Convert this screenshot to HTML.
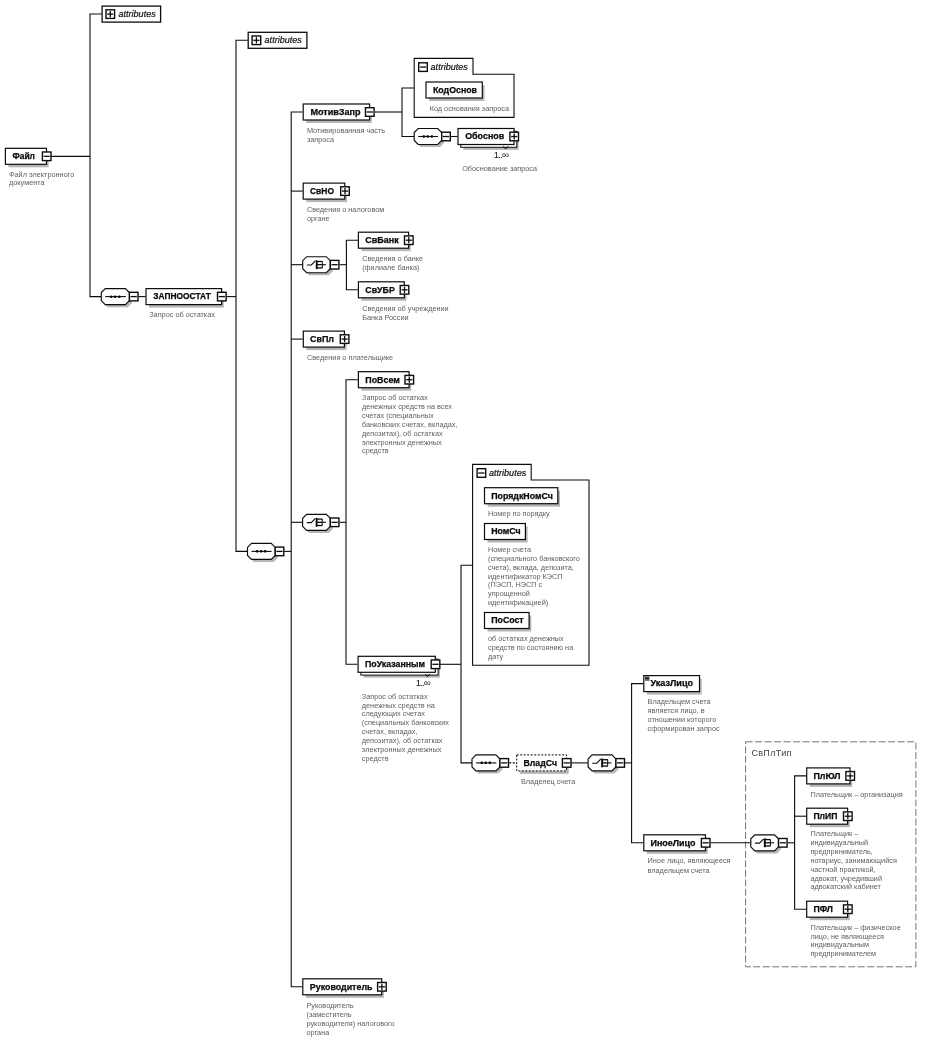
<!DOCTYPE html>
<html lang="ru">
<head>
<meta charset="utf-8">
<title>Схема: Файл / ЗАПНООСТАТ</title>
<style>
html,body{margin:0;padding:0;background:#fff;}
body{width:925px;height:1043px;overflow:hidden;}
svg{display:block;will-change:transform;}
text{font-family:"Liberation Sans",sans-serif;}
.b{font-weight:bold;fill:#0a0a0a;stroke:#0a0a0a;stroke-width:0.25px;}
.i{font-style:italic;fill:#111;stroke:#111;stroke-width:0.2px;}
.l{fill:#606060;}
.c{fill:#1a1a1a;}
.g{fill:#444;}
</style>
</head>
<body>
<svg width="925" height="1043" viewBox="0 0 925 1043">
<rect width="925" height="1043" fill="#fff"/>
<rect x="745.6" y="741.8" width="170.3" height="225" fill="#ffffff" stroke="#666" stroke-width="0.9" stroke-dasharray="7 2.5"/>
<text x="751.4" y="755.8" class="g" font-size="9" textLength="40">СвПлТип</text>
<path d="M51.0,156.4 L90.0,156.4" fill="none" stroke="#0c0c0c" stroke-width="1.1"/>
<path d="M101.6,14.0 L90.0,14.0 L90.0,296.6 L101.3,296.6" fill="none" stroke="#0c0c0c" stroke-width="1.1"/>
<path d="M138.4,296.6 L145.4,296.6" fill="none" stroke="#0c0c0c" stroke-width="1.1"/>
<path d="M226.0,296.6 L236.0,296.6" fill="none" stroke="#0c0c0c" stroke-width="1.1"/>
<path d="M247.7,40.3 L236.0,40.3 L236.0,551.4 L247.5,551.4" fill="none" stroke="#0c0c0c" stroke-width="1.1"/>
<path d="M284.3,551.4 L291.2,551.4" fill="none" stroke="#0c0c0c" stroke-width="1.1"/>
<path d="M302.6,112.0 L291.2,112.0 L291.2,986.8 L302.2,986.8" fill="none" stroke="#0c0c0c" stroke-width="1.1"/>
<path d="M291.2,191.1 L302.6,191.1" fill="none" stroke="#0c0c0c" stroke-width="1.1"/>
<path d="M291.2,264.7 L302.7,264.7" fill="none" stroke="#0c0c0c" stroke-width="1.1"/>
<path d="M291.2,339.1 L302.7,339.1" fill="none" stroke="#0c0c0c" stroke-width="1.1"/>
<path d="M291.2,522.3 L302.6,522.3" fill="none" stroke="#0c0c0c" stroke-width="1.1"/>
<path d="M374.7,112.0 L402.0,112.0" fill="none" stroke="#0c0c0c" stroke-width="1.1"/>
<path d="M414.2,88.0 L402.0,88.0 L402.0,136.5 L414.2,136.5" fill="none" stroke="#0c0c0c" stroke-width="1.1"/>
<path d="M450.5,136.5 L457.4,136.5" fill="none" stroke="#0c0c0c" stroke-width="1.1"/>
<path d="M339.6,264.7 L346.4,264.7" fill="none" stroke="#0c0c0c" stroke-width="1.1"/>
<path d="M357.8,240.2 L346.4,240.2 L346.4,289.8 L357.8,289.8" fill="none" stroke="#0c0c0c" stroke-width="1.1"/>
<path d="M339.6,522.3 L346.0,522.3" fill="none" stroke="#0c0c0c" stroke-width="1.1"/>
<path d="M357.8,379.7 L346.0,379.7 L346.0,664.3 L357.5,664.3" fill="none" stroke="#0c0c0c" stroke-width="1.1"/>
<path d="M439.9,664.3 L461.0,664.3" fill="none" stroke="#0c0c0c" stroke-width="1.1"/>
<path d="M472.6,565.3 L461.0,565.3 L461.0,762.9 L472.0,762.9" fill="none" stroke="#0c0c0c" stroke-width="1.1"/>
<path d="M509.2,762.9 L516.1,762.9" fill="none" stroke="#0c0c0c" stroke-width="1.1" stroke-dasharray="2 1.6"/>
<path d="M570.9,762.9 L588.1,762.9" fill="none" stroke="#0c0c0c" stroke-width="1.1"/>
<path d="M625.0,762.9 L631.6,762.9" fill="none" stroke="#0c0c0c" stroke-width="1.1"/>
<path d="M643.2,683.6 L631.6,683.6 L631.6,842.8 L643.2,842.8" fill="none" stroke="#0c0c0c" stroke-width="1.1"/>
<path d="M710.4,842.8 L750.8,842.8" fill="none" stroke="#0c0c0c" stroke-width="1.1"/>
<path d="M787.8,842.8 L794.6,842.8" fill="none" stroke="#0c0c0c" stroke-width="1.1"/>
<path d="M806.1,775.9 L794.6,775.9 L794.6,909.2 L806.1,909.2" fill="none" stroke="#0c0c0c" stroke-width="1.1"/>
<path d="M794.6,816.2 L806.1,816.2" fill="none" stroke="#0c0c0c" stroke-width="1.1"/>
<rect x="8.4" y="151.3" width="40.3" height="16.0" fill="#b6b6b6"/>
<rect x="5.4" y="148.3" width="41.1" height="16.0" fill="#fff" stroke="#0c0c0c" stroke-width="1.2"/>
<text x="12.5" y="159.1" class="b" font-size="8.8" textLength="22.5" lengthAdjust="spacingAndGlyphs">Файл</text>
<rect x="42.4" y="152.0" width="8.6" height="8.6" fill="#fff" stroke="#0c0c0c" stroke-width="1.4"/>
<path d="M43.6,156.3 H49.8" stroke="#0c0c0c" stroke-width="1.3"/>
<text x="9.0" y="176.5" class="l" font-size="7.3" fill="#606060">Файл электронного</text>
<text x="9.0" y="185.3" class="l" font-size="7.3" fill="#606060">документа</text>
<rect x="102.1" y="6.1" width="58.5" height="16.0" fill="#fff" stroke="#0c0c0c" stroke-width="1.3"/>
<rect x="106.0" y="9.8" width="8.6" height="8.6" fill="#fff" stroke="#0c0c0c" stroke-width="1.4"/>
<path d="M107.2,14.1 H113.4" stroke="#0c0c0c" stroke-width="1.3"/>
<path d="M110.3,11.0 V17.2" stroke="#0c0c0c" stroke-width="1.3"/>
<text x="118.5" y="17.1" class="i" font-size="9" textLength="37.2" lengthAdjust="spacingAndGlyphs">attributes</text>
<polygon points="107.7,291.2 127.8,291.2 131.8,295.2 131.8,303.2 127.8,307.2 107.7,307.2 103.7,303.2 103.7,295.2" fill="#b6b6b6"/>
<polygon points="105.3,288.6 125.4,288.6 129.4,292.6 129.4,300.6 125.4,304.6 105.3,304.6 101.3,300.6 101.3,292.6" fill="#fff" stroke="#0c0c0c" stroke-width="1.15"/>
<path d="M105.3,296.6 H125.8" stroke="#0c0c0c" stroke-width="1.1"/>
<rect x="110.2" y="295.4" width="2.2" height="2.5" rx="0.6" fill="#0c0c0c"/>
<rect x="114.0" y="295.4" width="2.2" height="2.5" rx="0.6" fill="#0c0c0c"/>
<rect x="118.2" y="295.4" width="2.2" height="2.5" rx="0.6" fill="#0c0c0c"/>
<rect x="129.4" y="292.3" width="8.6" height="8.6" fill="#fff" stroke="#0c0c0c" stroke-width="1.4"/>
<path d="M130.6,296.6 H136.8" stroke="#0c0c0c" stroke-width="1.3"/>
<rect x="149.0" y="291.6" width="74.8" height="16.0" fill="#b6b6b6"/>
<rect x="146.0" y="288.6" width="75.6" height="16.0" fill="#fff" stroke="#0c0c0c" stroke-width="1.2"/>
<text x="153.3" y="299.4" class="b" font-size="8.8" textLength="57.5" lengthAdjust="spacingAndGlyphs">ЗАПНООСТАТ</text>
<rect x="217.5" y="292.3" width="8.6" height="8.6" fill="#fff" stroke="#0c0c0c" stroke-width="1.4"/>
<path d="M218.7,296.6 H224.9" stroke="#0c0c0c" stroke-width="1.3"/>
<text x="149.2" y="317.2" class="l" font-size="7.3" fill="#606060">Запрос об остатках</text>
<rect x="248.2" y="32.3" width="58.7" height="16.0" fill="#fff" stroke="#0c0c0c" stroke-width="1.3"/>
<rect x="252.1" y="36.0" width="8.6" height="8.6" fill="#fff" stroke="#0c0c0c" stroke-width="1.4"/>
<path d="M253.3,40.3 H259.5" stroke="#0c0c0c" stroke-width="1.3"/>
<path d="M256.4,37.2 V43.4" stroke="#0c0c0c" stroke-width="1.3"/>
<text x="264.6" y="43.3" class="i" font-size="9" textLength="37.2" lengthAdjust="spacingAndGlyphs">attributes</text>
<polygon points="253.9,546.0 273.6,546.0 277.6,550.0 277.6,558.0 273.6,562.0 253.9,562.0 249.9,558.0 249.9,550.0" fill="#b6b6b6"/>
<polygon points="251.5,543.4 271.2,543.4 275.2,547.4 275.2,555.4 271.2,559.4 251.5,559.4 247.5,555.4 247.5,547.4" fill="#fff" stroke="#0c0c0c" stroke-width="1.15"/>
<path d="M251.5,551.4 H271.6" stroke="#0c0c0c" stroke-width="1.1"/>
<rect x="256.1" y="550.1" width="2.2" height="2.5" rx="0.6" fill="#0c0c0c"/>
<rect x="260.1" y="550.1" width="2.2" height="2.5" rx="0.6" fill="#0c0c0c"/>
<rect x="264.1" y="550.1" width="2.2" height="2.5" rx="0.6" fill="#0c0c0c"/>
<rect x="275.2" y="547.1" width="8.6" height="8.6" fill="#fff" stroke="#0c0c0c" stroke-width="1.4"/>
<path d="M276.4,551.4 H282.6" stroke="#0c0c0c" stroke-width="1.3"/>
<rect x="306.2" y="107.0" width="65.6" height="16.0" fill="#b6b6b6"/>
<rect x="303.2" y="104.0" width="66.4" height="16.0" fill="#fff" stroke="#0c0c0c" stroke-width="1.2"/>
<text x="310.4" y="114.8" class="b" font-size="8.8" textLength="50.2" lengthAdjust="spacingAndGlyphs">МотивЗапр</text>
<rect x="365.5" y="107.7" width="8.6" height="8.6" fill="#fff" stroke="#0c0c0c" stroke-width="1.4"/>
<path d="M366.7,112.0 H372.9" stroke="#0c0c0c" stroke-width="1.3"/>
<text x="306.9" y="133.2" class="l" font-size="7.3" fill="#606060">Мотивированная часть</text>
<text x="306.9" y="142.0" class="l" font-size="7.3" fill="#606060">запроса</text>
<polygon points="414.2,58.4 473.0,58.4 473.0,74.2 514.0,74.2 514.0,117.4 414.2,117.4" fill="#fff" stroke="#0c0c0c" stroke-width="1.1"/>
<rect x="418.7" y="62.8" width="8.6" height="8.6" fill="#fff" stroke="#0c0c0c" stroke-width="1.4"/>
<path d="M419.9,67.1 H426.1" stroke="#0c0c0c" stroke-width="1.3"/>
<text x="430.6" y="69.6" class="i" font-size="9" textLength="37.2" lengthAdjust="spacingAndGlyphs">attributes</text>
<rect x="429.0" y="85.0" width="55.5" height="16.0" fill="#b6b6b6"/>
<rect x="426.0" y="82.0" width="56.3" height="16.0" fill="#fff" stroke="#0c0c0c" stroke-width="1.2"/>
<text x="433.0" y="92.8" class="b" font-size="8.8" textLength="44.0" lengthAdjust="spacingAndGlyphs">КодОснов</text>
<text x="429.7" y="111.0" class="l" font-size="7.3" fill="#606060">Код основания запроса</text>
<polygon points="420.6,131.1 440.1,131.1 444.1,135.1 444.1,143.1 440.1,147.1 420.6,147.1 416.6,143.1 416.6,135.1" fill="#b6b6b6"/>
<polygon points="418.2,128.5 437.7,128.5 441.7,132.5 441.7,140.5 437.7,144.5 418.2,144.5 414.2,140.5 414.2,132.5" fill="#fff" stroke="#0c0c0c" stroke-width="1.15"/>
<path d="M418.2,136.5 H438.1" stroke="#0c0c0c" stroke-width="1.1"/>
<rect x="422.7" y="135.2" width="2.2" height="2.5" rx="0.6" fill="#0c0c0c"/>
<rect x="426.6" y="135.2" width="2.2" height="2.5" rx="0.6" fill="#0c0c0c"/>
<rect x="430.7" y="135.2" width="2.2" height="2.5" rx="0.6" fill="#0c0c0c"/>
<rect x="441.7" y="132.2" width="8.6" height="8.6" fill="#fff" stroke="#0c0c0c" stroke-width="1.4"/>
<path d="M442.9,136.5 H449.1" stroke="#0c0c0c" stroke-width="1.3"/>
<rect x="463.4" y="133.9" width="55.2" height="16.0" fill="#b6b6b6"/>
<rect x="460.8" y="131.3" width="56.0" height="16.0" fill="#fff" stroke="#0c0c0c" stroke-width="1"/>
<rect x="458.0" y="128.5" width="56.0" height="16.0" fill="#fff" stroke="#0c0c0c" stroke-width="1.2"/>
<text x="465.2" y="139.3" class="b" font-size="8.8" textLength="39.0" lengthAdjust="spacingAndGlyphs">Обоснов</text>
<rect x="509.9" y="132.2" width="8.6" height="8.6" fill="#fff" stroke="#0c0c0c" stroke-width="1.4"/>
<path d="M511.1,136.5 H517.3" stroke="#0c0c0c" stroke-width="1.3"/>
<path d="M514.2,133.4 V139.6" stroke="#0c0c0c" stroke-width="1.3"/>
<path d="M503.3,146.2 l2.3,2.8 l2.3,-2.8" fill="none" stroke="#0c0c0c" stroke-width="1"/>
<text x="493.8" y="158.3" class="c" font-size="9.6" textLength="15" lengthAdjust="spacing">1..∞</text>
<text x="462.2" y="171.1" class="l" font-size="7.3" fill="#606060">Обоснование запроса</text>
<rect x="306.2" y="186.1" width="40.8" height="16.0" fill="#b6b6b6"/>
<rect x="303.2" y="183.1" width="41.6" height="16.0" fill="#fff" stroke="#0c0c0c" stroke-width="1.2"/>
<text x="310.0" y="193.9" class="b" font-size="8.8" textLength="24.0" lengthAdjust="spacingAndGlyphs">СвНО</text>
<rect x="340.7" y="186.8" width="8.6" height="8.6" fill="#fff" stroke="#0c0c0c" stroke-width="1.4"/>
<path d="M341.9,191.1 H348.1" stroke="#0c0c0c" stroke-width="1.3"/>
<path d="M345.0,188.0 V194.2" stroke="#0c0c0c" stroke-width="1.3"/>
<text x="306.9" y="211.7" class="l" font-size="7.3" fill="#606060">Сведения о налоговом</text>
<text x="306.9" y="220.5" class="l" font-size="7.3" fill="#606060">органе</text>
<polygon points="309.1,259.3 328.7,259.3 332.7,263.3 332.7,271.3 328.7,275.3 309.1,275.3 305.1,271.3 305.1,263.3" fill="#b6b6b6"/>
<polygon points="306.7,256.7 326.3,256.7 330.3,260.7 330.3,268.7 326.3,272.7 306.7,272.7 302.7,268.7 302.7,260.7" fill="#fff" stroke="#0c0c0c" stroke-width="1.15"/>
<path d="M306.9,265.0 H311.4 L315.5,260.7" fill="none" stroke="#0c0c0c" stroke-width="1.1"/>
<path d="M316.7,260.3 V269.1" stroke="#0c0c0c" stroke-width="1.9"/>
<path d="M322.3,261.5 V267.9" stroke="#0c0c0c" stroke-width="1"/>
<path d="M322.3,264.7 H325.9" stroke="#0c0c0c" stroke-width="1.1"/>
<path d="M316.7,261.5 H322.5" stroke="#0c0c0c" stroke-width="1.3"/>
<path d="M316.7,264.7 H322.5" stroke="#0c0c0c" stroke-width="1.3"/>
<path d="M316.7,267.9 H322.5" stroke="#0c0c0c" stroke-width="1.3"/>
<rect x="330.3" y="260.4" width="8.6" height="8.6" fill="#fff" stroke="#0c0c0c" stroke-width="1.4"/>
<path d="M331.5,264.7 H337.7" stroke="#0c0c0c" stroke-width="1.3"/>
<rect x="361.4" y="235.2" width="49.4" height="16.0" fill="#b6b6b6"/>
<rect x="358.4" y="232.2" width="50.2" height="16.0" fill="#fff" stroke="#0c0c0c" stroke-width="1.2"/>
<text x="365.3" y="243.0" class="b" font-size="8.8" textLength="33.5" lengthAdjust="spacingAndGlyphs">СвБанк</text>
<rect x="404.5" y="235.9" width="8.6" height="8.6" fill="#fff" stroke="#0c0c0c" stroke-width="1.4"/>
<path d="M405.7,240.2 H411.9" stroke="#0c0c0c" stroke-width="1.3"/>
<path d="M408.8,237.1 V243.3" stroke="#0c0c0c" stroke-width="1.3"/>
<text x="362.2" y="261.0" class="l" font-size="7.3" fill="#606060">Сведения о банке</text>
<text x="362.2" y="269.8" class="l" font-size="7.3" fill="#606060">(филиале банка)</text>
<rect x="361.4" y="284.8" width="45.1" height="16.0" fill="#b6b6b6"/>
<rect x="358.4" y="281.8" width="45.9" height="16.0" fill="#fff" stroke="#0c0c0c" stroke-width="1.2"/>
<text x="365.3" y="292.6" class="b" font-size="8.8" textLength="29.5" lengthAdjust="spacingAndGlyphs">СвУБР</text>
<rect x="400.2" y="285.5" width="8.6" height="8.6" fill="#fff" stroke="#0c0c0c" stroke-width="1.4"/>
<path d="M401.4,289.8 H407.6" stroke="#0c0c0c" stroke-width="1.3"/>
<path d="M404.5,286.7 V292.9" stroke="#0c0c0c" stroke-width="1.3"/>
<text x="362.2" y="310.7" class="l" font-size="7.3" fill="#606060">Сведения об учреждении</text>
<text x="362.2" y="319.5" class="l" font-size="7.3" fill="#606060">Банка России</text>
<rect x="306.3" y="334.1" width="40.3" height="16.0" fill="#b6b6b6"/>
<rect x="303.3" y="331.1" width="41.1" height="16.0" fill="#fff" stroke="#0c0c0c" stroke-width="1.2"/>
<text x="310.0" y="341.9" class="b" font-size="8.8" textLength="24.0" lengthAdjust="spacingAndGlyphs">СвПл</text>
<rect x="340.3" y="334.8" width="8.6" height="8.6" fill="#fff" stroke="#0c0c0c" stroke-width="1.4"/>
<path d="M341.5,339.1 H347.7" stroke="#0c0c0c" stroke-width="1.3"/>
<path d="M344.6,336.0 V342.2" stroke="#0c0c0c" stroke-width="1.3"/>
<text x="307.0" y="359.8" class="l" font-size="7.3" fill="#606060">Сведения о плательщике</text>
<polygon points="309.0,516.9 328.7,516.9 332.7,520.9 332.7,528.9 328.7,532.9 309.0,532.9 305.0,528.9 305.0,520.9" fill="#b6b6b6"/>
<polygon points="306.6,514.3 326.3,514.3 330.3,518.3 330.3,526.3 326.3,530.3 306.6,530.3 302.6,526.3 302.6,518.3" fill="#fff" stroke="#0c0c0c" stroke-width="1.15"/>
<path d="M306.8,522.6 H311.3 L315.4,518.3" fill="none" stroke="#0c0c0c" stroke-width="1.1"/>
<path d="M316.6,517.9 V526.7" stroke="#0c0c0c" stroke-width="1.9"/>
<path d="M322.2,519.1 V525.5" stroke="#0c0c0c" stroke-width="1"/>
<path d="M322.2,522.3 H325.9" stroke="#0c0c0c" stroke-width="1.1"/>
<path d="M316.6,519.1 H322.4" stroke="#0c0c0c" stroke-width="1.3"/>
<path d="M316.6,522.3 H322.4" stroke="#0c0c0c" stroke-width="1.3"/>
<path d="M316.6,525.5 H322.4" stroke="#0c0c0c" stroke-width="1.3"/>
<rect x="330.3" y="518.0" width="8.6" height="8.6" fill="#fff" stroke="#0c0c0c" stroke-width="1.4"/>
<path d="M331.5,522.3 H337.7" stroke="#0c0c0c" stroke-width="1.3"/>
<rect x="361.4" y="374.7" width="49.9" height="16.0" fill="#b6b6b6"/>
<rect x="358.4" y="371.7" width="50.7" height="16.0" fill="#fff" stroke="#0c0c0c" stroke-width="1.2"/>
<text x="365.3" y="382.5" class="b" font-size="8.8" textLength="34.5" lengthAdjust="spacingAndGlyphs">ПоВсем</text>
<rect x="405.0" y="375.4" width="8.6" height="8.6" fill="#fff" stroke="#0c0c0c" stroke-width="1.4"/>
<path d="M406.2,379.7 H412.4" stroke="#0c0c0c" stroke-width="1.3"/>
<path d="M409.3,376.6 V382.8" stroke="#0c0c0c" stroke-width="1.3"/>
<text x="362.0" y="400.2" class="l" font-size="7.3" fill="#606060">Запрос об остатках</text>
<text x="362.0" y="409.1" class="l" font-size="7.3" fill="#606060">денежных средств на всех</text>
<text x="362.0" y="417.9" class="l" font-size="7.3" fill="#606060">счетах (специальных</text>
<text x="362.0" y="426.8" class="l" font-size="7.3" fill="#606060">банковских счетах, вкладах,</text>
<text x="362.0" y="435.7" class="l" font-size="7.3" fill="#606060">депозитах), об остатках</text>
<text x="362.0" y="444.5" class="l" font-size="7.3" fill="#606060">электронных денежных</text>
<text x="362.0" y="453.4" class="l" font-size="7.3" fill="#606060">средств</text>
<rect x="363.5" y="661.7" width="76.4" height="16.0" fill="#b6b6b6"/>
<rect x="360.9" y="659.1" width="77.2" height="16.0" fill="#fff" stroke="#0c0c0c" stroke-width="1"/>
<rect x="358.1" y="656.3" width="77.2" height="16.0" fill="#fff" stroke="#0c0c0c" stroke-width="1.2"/>
<text x="365.0" y="667.1" class="b" font-size="8.8" textLength="60.1" lengthAdjust="spacingAndGlyphs">ПоУказанным</text>
<rect x="431.2" y="660.0" width="8.6" height="8.6" fill="#fff" stroke="#0c0c0c" stroke-width="1.4"/>
<path d="M432.4,664.3 H438.6" stroke="#0c0c0c" stroke-width="1.3"/>
<path d="M425.2,674.0 l2.3,2.8 l2.3,-2.8" fill="none" stroke="#0c0c0c" stroke-width="1"/>
<text x="415.7" y="686.1" class="c" font-size="9.6" textLength="15" lengthAdjust="spacing">1..∞</text>
<text x="361.8" y="698.6" class="l" font-size="7.3" fill="#606060">Запрос об остатках</text>
<text x="361.8" y="707.5" class="l" font-size="7.3" fill="#606060">денежных средств на</text>
<text x="361.8" y="716.3" class="l" font-size="7.3" fill="#606060">следующих счетах</text>
<text x="361.8" y="725.1" class="l" font-size="7.3" fill="#606060">(специальных банковских</text>
<text x="361.8" y="734.0" class="l" font-size="7.3" fill="#606060">счетах, вкладах,</text>
<text x="361.8" y="742.9" class="l" font-size="7.3" fill="#606060">депозитах), об остатках</text>
<text x="361.8" y="751.7" class="l" font-size="7.3" fill="#606060">электронных денежных</text>
<text x="361.8" y="760.6" class="l" font-size="7.3" fill="#606060">средств</text>
<polygon points="472.6,464.4 531.2,464.4 531.2,480.0 589.0,480.0 589.0,665.2 472.6,665.2" fill="#fff" stroke="#0c0c0c" stroke-width="1.1"/>
<rect x="477.1" y="468.7" width="8.6" height="8.6" fill="#fff" stroke="#0c0c0c" stroke-width="1.4"/>
<path d="M478.3,473.0 H484.5" stroke="#0c0c0c" stroke-width="1.3"/>
<text x="489.0" y="475.5" class="i" font-size="9" textLength="37.2" lengthAdjust="spacingAndGlyphs">attributes</text>
<rect x="487.5" y="490.7" width="72.5" height="16.0" fill="#b6b6b6"/>
<rect x="484.5" y="487.7" width="73.3" height="16.0" fill="#fff" stroke="#0c0c0c" stroke-width="1.2"/>
<text x="491.2" y="498.5" class="b" font-size="8.8" textLength="61.6" lengthAdjust="spacingAndGlyphs">ПорядкНомСч</text>
<text x="488.0" y="516.0" class="l" font-size="7.3" fill="#606060">Номер по порядку</text>
<rect x="487.5" y="526.5" width="40.1" height="16.0" fill="#b6b6b6"/>
<rect x="484.5" y="523.5" width="40.9" height="16.0" fill="#fff" stroke="#0c0c0c" stroke-width="1.2"/>
<text x="491.2" y="534.3" class="b" font-size="8.8" textLength="29.5" lengthAdjust="spacingAndGlyphs">НомСч</text>
<text x="488.0" y="552.3" class="l" font-size="7.3" fill="#606060">Номер счета</text>
<text x="488.0" y="561.0" class="l" font-size="7.3" fill="#606060">(специального банковского</text>
<text x="488.0" y="569.8" class="l" font-size="7.3" fill="#606060">счета), вклада, депозита,</text>
<text x="488.0" y="578.5" class="l" font-size="7.3" fill="#606060">идентификатор КЭСП</text>
<text x="488.0" y="587.3" class="l" font-size="7.3" fill="#606060">(ПЭСП, НЭСП с</text>
<text x="488.0" y="596.0" class="l" font-size="7.3" fill="#606060">упрощенной</text>
<text x="488.0" y="604.8" class="l" font-size="7.3" fill="#606060">идентификацией)</text>
<rect x="487.5" y="615.5" width="43.8" height="16.0" fill="#b6b6b6"/>
<rect x="484.5" y="612.5" width="44.6" height="16.0" fill="#fff" stroke="#0c0c0c" stroke-width="1.2"/>
<text x="491.2" y="623.3" class="b" font-size="8.8" textLength="32.5" lengthAdjust="spacingAndGlyphs">ПоСост</text>
<text x="488.0" y="641.0" class="l" font-size="7.3" fill="#606060">об остатках денежных</text>
<text x="488.0" y="649.9" class="l" font-size="7.3" fill="#606060">средств по состоянию на</text>
<text x="488.0" y="658.7" class="l" font-size="7.3" fill="#606060">дату</text>
<polygon points="478.4,757.5 498.3,757.5 502.3,761.5 502.3,769.5 498.3,773.5 478.4,773.5 474.4,769.5 474.4,761.5" fill="#b6b6b6"/>
<polygon points="476.0,754.9 495.9,754.9 499.9,758.9 499.9,766.9 495.9,770.9 476.0,770.9 472.0,766.9 472.0,758.9" fill="#fff" stroke="#0c0c0c" stroke-width="1.15"/>
<path d="M476.0,762.9 H496.3" stroke="#0c0c0c" stroke-width="1.1"/>
<rect x="480.7" y="761.6" width="2.2" height="2.5" rx="0.6" fill="#0c0c0c"/>
<rect x="484.6" y="761.6" width="2.2" height="2.5" rx="0.6" fill="#0c0c0c"/>
<rect x="488.7" y="761.6" width="2.2" height="2.5" rx="0.6" fill="#0c0c0c"/>
<rect x="499.9" y="758.6" width="8.6" height="8.6" fill="#fff" stroke="#0c0c0c" stroke-width="1.4"/>
<path d="M501.1,762.9 H507.3" stroke="#0c0c0c" stroke-width="1.3"/>
<rect x="519.7" y="757.9" width="49.0" height="16.0" fill="#b6b6b6"/>
<rect x="516.7" y="754.9" width="49.8" height="16.0" fill="#fff" stroke="#0c0c0c" stroke-width="1.0" stroke-dasharray="2 1.5"/>
<text x="523.5" y="765.7" class="b" font-size="8.8" textLength="33.5" lengthAdjust="spacingAndGlyphs">ВладСч</text>
<rect x="562.4" y="758.6" width="8.6" height="8.6" fill="#fff" stroke="#0c0c0c" stroke-width="1.4"/>
<path d="M563.6,762.9 H569.8" stroke="#0c0c0c" stroke-width="1.3"/>
<text x="521.0" y="783.7" class="l" font-size="7.3" fill="#606060">Владелец счета</text>
<polygon points="594.5,757.5 614.3,757.5 618.3,761.5 618.3,769.5 614.3,773.5 594.5,773.5 590.5,769.5 590.5,761.5" fill="#b6b6b6"/>
<polygon points="592.1,754.9 611.9,754.9 615.9,758.9 615.9,766.9 611.9,770.9 592.1,770.9 588.1,766.9 588.1,758.9" fill="#fff" stroke="#0c0c0c" stroke-width="1.15"/>
<path d="M592.3,763.2 H596.8 L600.9,758.9" fill="none" stroke="#0c0c0c" stroke-width="1.1"/>
<path d="M602.1,758.5 V767.3" stroke="#0c0c0c" stroke-width="1.9"/>
<path d="M607.7,759.7 V766.1" stroke="#0c0c0c" stroke-width="1"/>
<path d="M607.7,762.9 H611.5" stroke="#0c0c0c" stroke-width="1.1"/>
<path d="M602.1,759.7 H607.9" stroke="#0c0c0c" stroke-width="1.3"/>
<path d="M602.1,762.9 H607.9" stroke="#0c0c0c" stroke-width="1.3"/>
<path d="M602.1,766.1 H607.9" stroke="#0c0c0c" stroke-width="1.3"/>
<rect x="615.9" y="758.6" width="8.6" height="8.6" fill="#fff" stroke="#0c0c0c" stroke-width="1.4"/>
<path d="M617.1,762.9 H623.3" stroke="#0c0c0c" stroke-width="1.3"/>
<rect x="646.8" y="678.6" width="54.9" height="16.0" fill="#b6b6b6"/>
<rect x="643.8" y="675.6" width="55.7" height="16.0" fill="#fff" stroke="#0c0c0c" stroke-width="1.2"/>
<path d="M645.0,677.2 h4.4" stroke="#0c0c0c" stroke-width="1.1"/>
<path d="M645.0,678.6 h4.4" stroke="#0c0c0c" stroke-width="1.1"/>
<path d="M645.0,680.0 h4.4" stroke="#0c0c0c" stroke-width="1.1"/>
<text x="650.5" y="686.4" class="b" font-size="8.8" textLength="42.5" lengthAdjust="spacingAndGlyphs">УказЛицо</text>
<text x="647.6" y="704.4" class="l" font-size="7.3" fill="#606060">Владельцем счета</text>
<text x="647.6" y="713.2" class="l" font-size="7.3" fill="#606060">является лицо, в</text>
<text x="647.6" y="722.0" class="l" font-size="7.3" fill="#606060">отношении которого</text>
<text x="647.6" y="730.8" class="l" font-size="7.3" fill="#606060">сформирован запрос</text>
<rect x="646.8" y="837.8" width="60.9" height="16.0" fill="#b6b6b6"/>
<rect x="643.8" y="834.8" width="61.7" height="16.0" fill="#fff" stroke="#0c0c0c" stroke-width="1.2"/>
<text x="650.5" y="845.6" class="b" font-size="8.8" textLength="45.0" lengthAdjust="spacingAndGlyphs">ИноеЛицо</text>
<rect x="701.4" y="838.5" width="8.6" height="8.6" fill="#fff" stroke="#0c0c0c" stroke-width="1.4"/>
<path d="M702.6,842.8 H708.8" stroke="#0c0c0c" stroke-width="1.3"/>
<text x="647.6" y="863.3" class="l" font-size="7.3" fill="#606060">Иное лицо, являющееся</text>
<text x="647.6" y="872.6" class="l" font-size="7.3" fill="#606060">владельцем счета</text>
<polygon points="757.2,837.4 776.9,837.4 780.9,841.4 780.9,849.4 776.9,853.4 757.2,853.4 753.2,849.4 753.2,841.4" fill="#b6b6b6"/>
<polygon points="754.8,834.8 774.5,834.8 778.5,838.8 778.5,846.8 774.5,850.8 754.8,850.8 750.8,846.8 750.8,838.8" fill="#fff" stroke="#0c0c0c" stroke-width="1.15"/>
<path d="M755.0,843.1 H759.5 L763.6,838.8" fill="none" stroke="#0c0c0c" stroke-width="1.1"/>
<path d="M764.8,838.4 V847.2" stroke="#0c0c0c" stroke-width="1.9"/>
<path d="M770.4,839.6 V846.0" stroke="#0c0c0c" stroke-width="1"/>
<path d="M770.4,842.8 H774.1" stroke="#0c0c0c" stroke-width="1.1"/>
<path d="M764.8,839.6 H770.6" stroke="#0c0c0c" stroke-width="1.3"/>
<path d="M764.8,842.8 H770.6" stroke="#0c0c0c" stroke-width="1.3"/>
<path d="M764.8,846.0 H770.6" stroke="#0c0c0c" stroke-width="1.3"/>
<rect x="778.5" y="838.5" width="8.6" height="8.6" fill="#fff" stroke="#0c0c0c" stroke-width="1.4"/>
<path d="M779.7,842.8 H785.9" stroke="#0c0c0c" stroke-width="1.3"/>
<rect x="809.7" y="770.9" width="42.5" height="16.0" fill="#b6b6b6"/>
<rect x="806.7" y="767.9" width="43.3" height="16.0" fill="#fff" stroke="#0c0c0c" stroke-width="1.2"/>
<text x="813.4" y="778.7" class="b" font-size="8.8" textLength="27.0" lengthAdjust="spacingAndGlyphs">ПлЮЛ</text>
<rect x="845.9" y="771.6" width="8.6" height="8.6" fill="#fff" stroke="#0c0c0c" stroke-width="1.4"/>
<path d="M847.1,775.9 H853.3" stroke="#0c0c0c" stroke-width="1.3"/>
<path d="M850.2,772.8 V779.0" stroke="#0c0c0c" stroke-width="1.3"/>
<text x="810.4" y="796.7" class="l" font-size="7.3" fill="#606060">Плательщик – организация</text>
<rect x="809.7" y="811.2" width="40.1" height="16.0" fill="#b6b6b6"/>
<rect x="806.7" y="808.2" width="40.9" height="16.0" fill="#fff" stroke="#0c0c0c" stroke-width="1.2"/>
<text x="813.4" y="819.0" class="b" font-size="8.8" textLength="24.0" lengthAdjust="spacingAndGlyphs">ПлИП</text>
<rect x="843.5" y="811.9" width="8.6" height="8.6" fill="#fff" stroke="#0c0c0c" stroke-width="1.4"/>
<path d="M844.7,816.2 H850.9" stroke="#0c0c0c" stroke-width="1.3"/>
<path d="M847.8,813.1 V819.3" stroke="#0c0c0c" stroke-width="1.3"/>
<text x="810.4" y="836.0" class="l" font-size="7.3" fill="#606060">Плательщик –</text>
<text x="810.4" y="844.9" class="l" font-size="7.3" fill="#606060">индивидуальный</text>
<text x="810.4" y="853.8" class="l" font-size="7.3" fill="#606060">предприниматель,</text>
<text x="810.4" y="862.7" class="l" font-size="7.3" fill="#606060">нотариус, занимающийся</text>
<text x="810.4" y="871.6" class="l" font-size="7.3" fill="#606060">частной практикой,</text>
<text x="810.4" y="880.5" class="l" font-size="7.3" fill="#606060">адвокат, учредивший</text>
<text x="810.4" y="889.4" class="l" font-size="7.3" fill="#606060">адвокатский кабинет</text>
<rect x="809.7" y="904.2" width="40.1" height="16.0" fill="#b6b6b6"/>
<rect x="806.7" y="901.2" width="40.9" height="16.0" fill="#fff" stroke="#0c0c0c" stroke-width="1.2"/>
<text x="813.4" y="912.0" class="b" font-size="8.8" textLength="19.5" lengthAdjust="spacingAndGlyphs">ПФЛ</text>
<rect x="843.5" y="904.9" width="8.6" height="8.6" fill="#fff" stroke="#0c0c0c" stroke-width="1.4"/>
<path d="M844.7,909.2 H850.9" stroke="#0c0c0c" stroke-width="1.3"/>
<path d="M847.8,906.1 V912.3" stroke="#0c0c0c" stroke-width="1.3"/>
<text x="810.4" y="929.7" class="l" font-size="7.3" fill="#606060">Плательщик – физическое</text>
<text x="810.4" y="938.6" class="l" font-size="7.3" fill="#606060">лицо, не являющееся</text>
<text x="810.4" y="947.4" class="l" font-size="7.3" fill="#606060">индивидуальным</text>
<text x="810.4" y="956.3" class="l" font-size="7.3" fill="#606060">предпринимателем</text>
<rect x="305.8" y="981.8" width="78.1" height="16.0" fill="#b6b6b6"/>
<rect x="302.8" y="978.8" width="78.9" height="16.0" fill="#fff" stroke="#0c0c0c" stroke-width="1.2"/>
<text x="309.8" y="989.6" class="b" font-size="8.8" textLength="62.7" lengthAdjust="spacingAndGlyphs">Руководитель</text>
<rect x="377.6" y="982.5" width="8.6" height="8.6" fill="#fff" stroke="#0c0c0c" stroke-width="1.4"/>
<path d="M378.8,986.8 H385.0" stroke="#0c0c0c" stroke-width="1.3"/>
<path d="M381.9,983.7 V989.9" stroke="#0c0c0c" stroke-width="1.3"/>
<text x="306.5" y="1007.7" class="l" font-size="7.3" fill="#606060">Руководитель</text>
<text x="306.5" y="1016.6" class="l" font-size="7.3" fill="#606060">(заместитель</text>
<text x="306.5" y="1025.6" class="l" font-size="7.3" fill="#606060">руководителя) налогового</text>
<text x="306.5" y="1034.5" class="l" font-size="7.3" fill="#606060">органа</text>
</svg>
</body>
</html>
